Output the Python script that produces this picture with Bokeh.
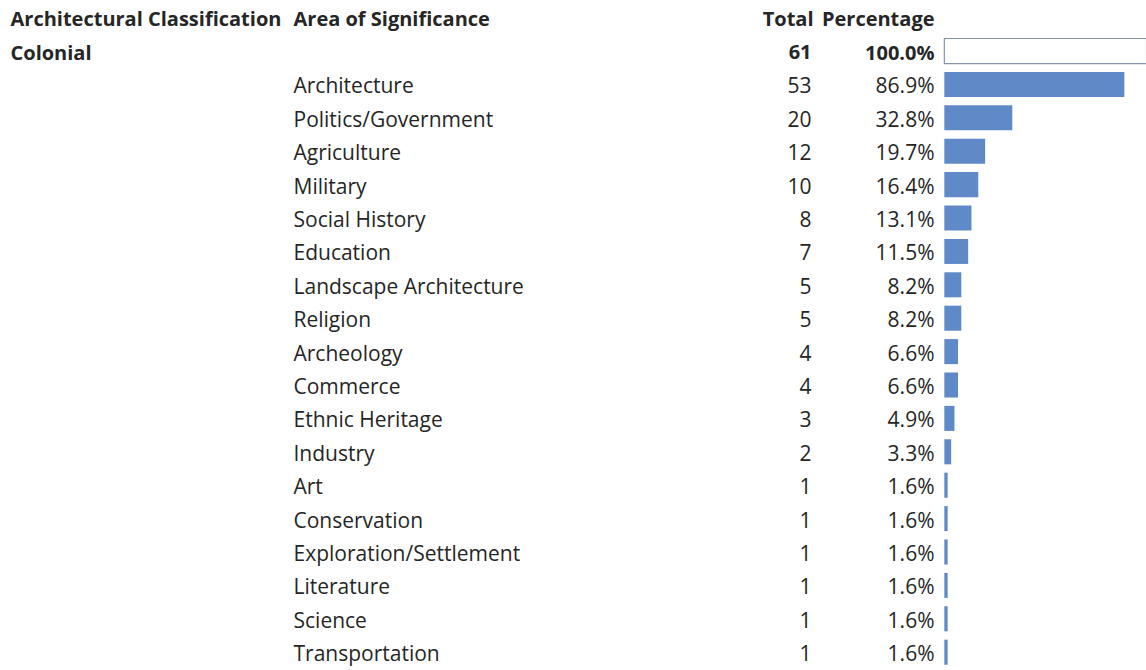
from bokeh.plotting import figure
from bokeh.models import Range1d, ColumnDataSource
from bokeh.core.properties import value
from bokeh.embed import file_html
from bokeh.resources import INLINE

# ---- data ----
headers = ["Architectural Classification", "Area of Significance", "Total", "Percentage"]
classification = "Colonial"
class_total = 61
class_pct = 100.0
areas = ["Architecture", "Politics/Government", "Agriculture", "Military", "Social History",
         "Education", "Landscape Architecture", "Religion", "Archeology", "Commerce",
         "Ethnic Heritage", "Industry", "Art", "Conservation", "Exploration/Settlement",
         "Literature", "Science", "Transportation"]
totals = [53, 20, 12, 10, 8, 7, 5, 5, 4, 4, 3, 2, 1, 1, 1, 1, 1, 1]
percents = [86.9, 32.8, 19.7, 16.4, 13.1, 11.5, 8.2, 8.2, 6.6, 6.6, 4.9, 3.3, 1.6, 1.6, 1.6, 1.6, 1.6, 1.6]

# ---- layout constants (canvas pixels) ----
W, H = 1146, 670
ROW0 = 17.1      # y of row 0 centre
PITCH = 33.4
BAR_X0 = 943     # x where bars start
BAR_100 = 207    # pixels for 100%
FONT = value("Open Sans")
FS = "21px"
FS_B = "20px"
TXT = "#262626"
BASE_OFF = 1.0 / PITCH   # text baseline offset from row centre (rows)

def row_of(py):
    return (py - ROW0) / PITCH

p = figure(width=W, height=H, output_backend="svg", toolbar_location=None,
           x_range=Range1d(0, W),
           y_range=Range1d(row_of(H), row_of(0)),
           min_border=0, outline_line_color=None)
p.xaxis.visible = False
p.yaxis.visible = False
p.grid.visible = False
p.background_fill_color = "white"
p.border_fill_color = "white"

p.extra_x_ranges = {"pct": Range1d((0 - BAR_X0) / BAR_100 * 100,
                                   (W - 1 - BAR_X0) / BAR_100 * 100)}

rows = list(range(2, 2 + len(areas)))

# bars
src = ColumnDataSource(dict(y=rows, pct=percents))
p.hbar(y="y", left=0, right="pct", height=0.75, source=src, x_range_name="pct",
       fill_color="#5F8AC7", line_color=None)
p.hbar(y=[1], left=[0], right=[class_pct], height=0.75, x_range_name="pct",
       fill_color="white", line_color="#8494AA", line_width=1.2)

common = dict(text_font=FONT, text_color=TXT, text_baseline="alphabetic")

def ty(rs):
    return [r + BASE_OFF for r in rs]

# header row
p.text(x=[10, 293], y=ty([0, 0]), text=headers[:2], text_align="left",
       text_font_style="bold", text_font_size=FS_B, **common)
p.text(x=[813], y=ty([0]), text=[headers[2]], text_align="right",
       text_font_style="bold", text_font_size=FS_B, **common)
p.text(x=[934], y=ty([0]), text=[headers[3]], text_align="right",
       text_font_style="bold", text_font_size=FS_B, **common)

# classification row
p.text(x=[10], y=ty([1]), text=[classification], text_align="left",
       text_font_style="bold", text_font_size=FS_B, **common)
p.text(x=[811], y=ty([1]), text=[str(class_total)], text_align="right",
       text_font_style="bold", text_font_size=FS_B, **common)
p.text(x=[934], y=ty([1]), text=["%.1f%%" % class_pct], text_align="right",
       text_font_style="bold", text_font_size=FS_B, **common)

# detail rows
p.text(x=[293] * len(areas), y=ty(rows), text=areas, text_align="left",
       text_font_size=FS, **common)
p.text(x=[811] * len(areas), y=ty(rows), text=[str(t) for t in totals], text_align="right",
       text_font_size=FS, **common)
p.text(x=[934] * len(areas), y=ty(rows), text=["%.1f%%" % v for v in percents], text_align="right",
       text_font_size=FS, **common)

open("out.html", "w").write(file_html(p, INLINE))
